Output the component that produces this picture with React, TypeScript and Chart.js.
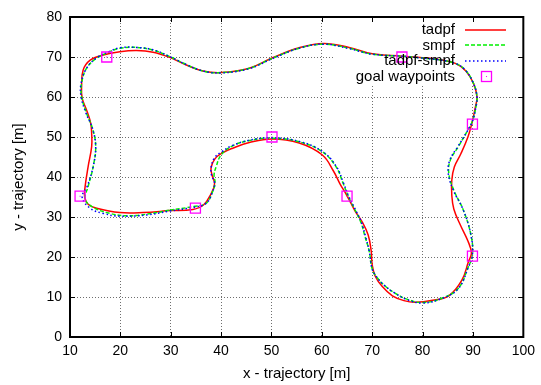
import React, { useEffect, useRef } from "react";
import { Chart, registerables } from "chart.js";

Chart.register(...registerables);

type P = [number, number];

// Robot trajectory samples (x, y in metres), one closed lap per planner
const tadpf: P[] = [
  [29.8, 31.6], [34.4, 31.9], [36.5, 33.0], [38.0, 35.8], [38.7, 38.3], [38.2, 40.5],
  [38.0, 42.3], [38.8, 44.6], [40.2, 46.0], [42.3, 47.2], [45.6, 48.6], [50.0, 49.5],
  [55.5, 48.5], [60.1, 45.5], [62.3, 41.5], [63.6, 38.3], [65.0, 35.3], [66.6, 31.5],
  [68.0, 28.8], [69.2, 25.5], [69.8, 21.5], [70.0, 18.0], [70.6, 15.2], [72.0, 12.6],
  [74.0, 10.3], [76.3, 9.1], [78.6, 8.7], [82.0, 9.2], [85.2, 10.3], [87.8, 14.2],
  [89.1, 18.8], [89.7, 21.0], [89.0, 24.0], [87.5, 28.0], [86.2, 32.0], [85.8, 35.5],
  [85.8, 39.2], [86.3, 42.5], [87.6, 45.8], [89.0, 50.0], [89.8, 53.5], [90.5, 57.6],
  [90.8, 60.1], [90.1, 63.4], [88.6, 66.5], [86.5, 68.4], [83.2, 69.4], [79.5, 69.9],
  [75.9, 70.2], [70.0, 70.8], [65.4, 72.4], [60.4, 73.4], [55.5, 72.3], [50.2, 69.8],
  [45.6, 67.2], [40.0, 66.1], [36.4, 66.5], [33.1, 68.0], [29.8, 69.9], [26.5, 71.2],
  [23.2, 71.6], [19.9, 71.3], [16.6, 70.5], [14.0, 69.2], [12.6, 66.7], [12.3, 62.6],
  [12.4, 59.8], [13.3, 56.7], [14.1, 53.5], [14.3, 50.9], [14.3, 47.6], [13.6, 42.6],
  [13.0, 37.6], [12.9, 35.0], [13.6, 33.2], [15.3, 32.2], [19.9, 31.1], [24.5, 31.1],
  [29.8, 31.6],
];

const smpf: P[] = [
  [29.8, 31.7], [34.4, 32.6], [37.0, 33.4], [38.3, 36.3], [38.8, 38.5], [38.6, 40.5],
  [39.0, 42.5], [40.0, 45.5], [42.3, 47.8], [45.6, 49.1], [50.0, 49.7], [55.5, 48.8],
  [60.1, 46.3], [62.8, 42.6], [64.2, 38.5], [65.3, 35.0], [66.7, 31.5], [67.8, 28.5],
  [68.6, 25.0], [69.4, 21.5], [70.0, 17.0], [71.0, 14.8], [72.5, 12.8], [74.6, 10.9],
  [77.0, 9.4], [80.0, 8.6], [83.8, 9.7], [87.1, 12.2], [89.1, 17.6], [89.9, 20.5],
  [89.6, 25.5], [88.1, 31.7], [86.2, 36.7], [85.2, 40.9], [85.5, 44.2], [87.1, 47.6],
  [88.8, 51.3], [89.9, 54.0], [90.6, 57.6], [90.8, 60.1], [90.1, 63.4], [88.5, 66.7],
  [86.5, 68.4], [83.2, 69.3], [79.5, 69.8], [75.9, 70.2], [70.0, 70.7], [65.4, 72.2],
  [60.4, 73.2], [55.5, 72.2], [50.2, 69.7], [45.6, 67.2], [40.0, 66.1], [36.4, 66.5],
  [33.1, 68.1], [29.8, 70.1], [26.5, 71.7], [23.2, 72.4], [19.9, 72.2], [17.9, 71.3],
  [15.3, 69.7], [13.3, 67.2], [12.3, 63.4], [12.3, 60.1], [13.3, 55.9], [14.5, 52.0],
  [15.1, 47.6], [14.6, 42.6], [13.6, 37.6], [13.0, 34.5], [14.6, 32.4], [17.9, 30.9],
  [21.2, 30.3], [25.2, 30.7], [29.8, 31.7],
];

const tadpfSmpf: P[] = [
  [29.8, 31.5], [34.4, 32.4], [37.0, 33.4], [38.3, 36.3], [38.7, 38.5], [38.1, 40.5],
  [38.0, 42.3], [38.7, 44.8], [40.1, 46.3], [42.3, 47.9], [45.6, 49.2], [50.0, 49.8],
  [55.5, 48.9], [60.1, 46.4], [62.9, 42.6], [64.3, 38.5], [65.4, 35.0], [66.8, 31.5],
  [67.9, 28.5], [68.7, 25.0], [69.4, 21.5], [70.0, 17.0], [71.0, 14.8], [72.5, 12.8],
  [74.6, 10.9], [77.0, 9.3], [80.0, 8.5], [83.8, 9.6], [87.1, 12.1], [89.1, 17.5],
  [89.9, 20.5], [89.6, 25.5], [88.1, 31.7], [86.1, 36.7], [85.1, 40.9], [85.4, 44.2],
  [87.0, 47.6], [88.8, 51.3], [89.9, 54.0], [90.6, 57.6], [90.8, 60.1], [90.1, 63.4],
  [88.5, 66.7], [86.5, 68.4], [83.2, 69.3], [79.5, 69.8], [75.9, 70.2], [70.0, 70.7],
  [65.4, 72.1], [60.4, 73.2], [55.5, 72.2], [50.2, 69.6], [45.6, 67.1], [40.0, 66.0],
  [36.4, 66.5], [33.1, 68.1], [29.8, 70.1], [26.5, 71.8], [23.2, 72.4], [19.9, 72.3],
  [17.9, 71.4], [15.3, 69.8], [13.3, 67.2], [12.2, 63.4], [12.2, 60.1], [13.2, 55.9],
  [14.5, 52.0], [15.1, 47.6], [14.6, 42.6], [13.4, 37.6], [12.4, 35.0], [14.0, 32.2],
  [16.6, 30.9], [19.9, 30.2], [25.2, 30.5], [29.8, 31.5],
];

const goalWaypoints: P[] = [
  [12, 35.2], [17.3, 70], [34.9, 32.2], [50.1, 50], [65, 35.2], [75.9, 70], [89.9, 53.2], [89.9, 20.2],
];

const xTicks = [10, 20, 30, 40, 50, 60, 70, 80, 90, 100];
const yTicks = [0, 10, 20, 30, 40, 50, 60, 70, 80];

const FONT = "'Liberation Sans', Arial, Helvetica, sans-serif";
const toXY = (pts: P[]) => pts.map(([x, y]) => ({ x, y }));

// gnuplot-like frame: 2px box plus short inward tick marks on all four sides
const framePlugin = {
  id: "frame",
  beforeDatasetsDraw(chart: any) {
    // the key area blanks out the grid underneath it
    const { ctx, chartArea: a } = chart;
    ctx.save();
    ctx.fillStyle = "#ffffff";
    ctx.fillRect(335, a.top + 2, a.right - 6 - 335, 84 - a.top - 2);
    ctx.restore();
  },
  afterDraw(chart: any) {
    const { ctx, chartArea: a, scales } = chart;
    ctx.save();
    ctx.strokeStyle = "#000";
    ctx.lineWidth = 1;
    ctx.beginPath();
    for (const v of xTicks) {
      const px = Math.round(scales.x.getPixelForValue(v)) + 0.5;
      ctx.moveTo(px, a.bottom);
      ctx.lineTo(px, a.bottom - 5);
      ctx.moveTo(px, a.top);
      ctx.lineTo(px, a.top + 5);
    }
    for (const v of yTicks) {
      const py = Math.round(scales.y.getPixelForValue(v)) + 0.5;
      ctx.moveTo(a.left, py);
      ctx.lineTo(a.left + 5, py);
      ctx.moveTo(a.right, py);
      ctx.lineTo(a.right - 5, py);
    }
    ctx.stroke();
    ctx.lineWidth = 2;
    ctx.strokeRect(a.left, a.top, a.right - a.left, a.bottom - a.top);
    ctx.restore();
  },
};

// key in the upper right: right-aligned labels with the line sample to their right
const keyPlugin = {
  id: "key",
  afterDatasetsDraw(chart: any) {
    const { ctx } = chart;
    const ds = chart.data.datasets;
    const textRight = 455;
    const x0 = 465;
    const x1 = 506;
    const rowY = [29.5, 45, 60.5, 76];
    ctx.save();
    ctx.font = `15px ${FONT}`;
    ctx.textAlign = "right";
    ctx.textBaseline = "middle";
    for (let i = 0; i < 4; i++) {
      const d = ds[i];
      const y = rowY[i];
      ctx.fillStyle = "#000";
      ctx.fillText(d.label, textRight, y + 0.5);
      if (i < 3) {
        ctx.strokeStyle = d.borderColor;
        ctx.lineWidth = d.borderWidth;
        ctx.setLineDash(d.borderDash || []);
        ctx.beginPath();
        ctx.moveTo(x0, Math.round(y));
        ctx.lineTo(x1, Math.round(y));
        ctx.stroke();
        ctx.setLineDash([]);
      } else {
        const cx = (x0 + x1) / 2;
        ctx.strokeStyle = d.borderColor;
        ctx.lineWidth = 1.3;
        ctx.strokeRect(Math.round(cx - 5) + 0.5, Math.round(y - 5) + 0.5, 10, 10);
        ctx.fillStyle = d.borderColor;
        ctx.fillRect(Math.round(cx), Math.round(y), 1, 1);
      }
    }
    ctx.restore();
  },
};

export default function App() {
  const ref = useRef<HTMLCanvasElement | null>(null);

  useEffect(() => {
    if (!ref.current) return;
    const lineDs = (label: string, pts: P[], color: string, width: number, dash: number[], order: number) => ({
      type: "scatter" as const,
      label,
      data: toXY(pts),
      showLine: true,
      borderColor: color,
      backgroundColor: color,
      borderWidth: width,
      borderDash: dash,
      pointRadius: 0,
      tension: 0.4,
      fill: false,
      order,
    });
    const chart = new Chart(ref.current, {
      type: "scatter",
      data: {
        datasets: [
          lineDs("tadpf", tadpf, "#ff0000", 1.5, [], 4),
          lineDs("smpf", smpf, "#00f000", 1.5, [4, 2], 3),
          lineDs("tadpf-smpf", tadpfSmpf, "#0000ff", 1.5, [1.5, 2.5], 2),
          {
            label: "goal waypoints",
            data: toXY(goalWaypoints),
            showLine: false,
            pointStyle: "rect",
            pointRadius: 7.1,
            borderColor: "#ff00ff",
            backgroundColor: "rgba(0,0,0,0)",
            borderWidth: 1.3,
            order: 1,
          },
          {
            label: "",
            data: toXY(goalWaypoints),
            showLine: false,
            pointStyle: "rect",
            pointRadius: 0.8,
            borderWidth: 0,
            backgroundColor: "#ff00ff",
            order: 0,
          },
        ],
      },
      options: {
        animation: false,
        responsive: false,
        devicePixelRatio: 1,
        layout: { padding: { left: 0, right: 16, top: 17, bottom: 0 } },
        plugins: { legend: { display: false }, tooltip: { enabled: false } },
        scales: {
          x: {
            type: "linear",
            min: 10,
            max: 100,
            afterFit: (s: any) => {
              s.height = 48;
            },
            ticks: {
              stepSize: 10,
              color: "#000",
              padding: 6,
              font: { family: FONT, size: 14 },
              maxRotation: 0,
            },
            grid: { color: "#6e6e6e", lineWidth: 1, drawTicks: false },
            border: { color: "#000", width: 2, dash: [1, 2] },
            title: {
              display: true,
              text: "x - trajectory [m]",
              color: "#000",
              font: { family: FONT, size: 15 },
              padding: { top: 0, bottom: 2 },
            },
          },
          y: {
            type: "linear",
            min: 0,
            max: 80,
            afterFit: (s: any) => {
              s.width = 70;
            },
            ticks: {
              stepSize: 10,
              color: "#000",
              padding: 8,
              font: { family: FONT, size: 14 },
            },
            grid: { color: "#6e6e6e", lineWidth: 1, drawTicks: false },
            border: { color: "#000", width: 2, dash: [1, 2] },
            title: {
              display: true,
              text: "y - trajectory [m]",
              color: "#000",
              font: { family: FONT, size: 15 },
              padding: { top: 10, bottom: 0 },
            },
          },
        },
      },
      plugins: [framePlugin, keyPlugin],
    } as any);
    return () => chart.destroy();
  }, []);

  return (
    <div style={{ position: "absolute", left: 0, top: 0, width: 541, height: 385, background: "#fff" }}>
      <canvas ref={ref} width={541} height={385} style={{ display: "block" }} />
    </div>
  );
}
